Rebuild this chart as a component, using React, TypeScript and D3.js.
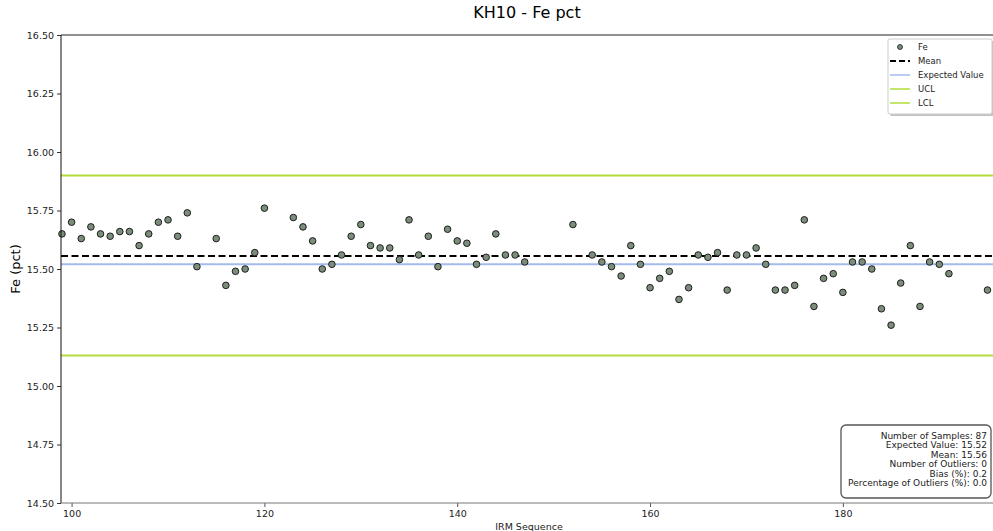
import React, { useEffect, useRef } from 'react';
import * as d3 from 'd3';

// IRM sequence numbers and Fe values
const seq = [
  99, 100, 101, 102, 103, 104, 105, 106, 107, 108, 109, 110, 111, 112, 113,
  115, 116, 117, 118, 119, 120,
  123, 124, 125, 126, 127, 128, 129, 130, 131, 132, 133, 134, 135, 136, 137, 138, 139, 140,
  141, 142, 143, 144, 145, 146, 147,
  152,
  154, 155, 156, 157, 158, 159, 160, 161, 162, 163, 164, 165, 166, 167, 168, 169, 170,
  171, 172, 173, 174, 175, 176, 177, 178, 179, 180, 181, 182, 183, 184, 185, 186, 187,
  188, 189, 190, 191,
  195,
];
const fe = [
  15.65, 15.70, 15.63, 15.68, 15.65, 15.64, 15.66, 15.66, 15.60, 15.65, 15.70, 15.71, 15.64, 15.74, 15.51,
  15.63, 15.43, 15.49, 15.50, 15.57, 15.76,
  15.72, 15.68, 15.62, 15.50, 15.52, 15.56, 15.64, 15.69, 15.60, 15.59, 15.59, 15.54, 15.71, 15.56, 15.64, 15.51, 15.67, 15.62,
  15.61, 15.52, 15.55, 15.65, 15.56, 15.56, 15.53,
  15.69,
  15.56, 15.53, 15.51, 15.47, 15.60, 15.52, 15.42, 15.46, 15.49, 15.37, 15.42, 15.56, 15.55, 15.57, 15.41, 15.56, 15.56,
  15.59, 15.52, 15.41, 15.41, 15.43, 15.71, 15.34, 15.46, 15.48, 15.40, 15.53, 15.53, 15.50, 15.33, 15.26, 15.44, 15.60,
  15.34, 15.53, 15.52, 15.48,
  15.41,
];

const meanValue = 15.556;
const expectedValue = 15.52;
const ucl = 15.9;
const lcl = 15.13;

const yTicks = [14.5, 14.75, 15.0, 15.25, 15.5, 15.75, 16.0, 16.25, 16.5];
const xTicks = [100, 120, 140, 160, 180];

const legendItems = ['Fe', 'Mean', 'Expected Value', 'UCL', 'LCL'];
const statsLines = [
  'Number of Samples: 87',
  'Expected Value: 15.52',
  'Mean: 15.56',
  'Number of Outliers: 0',
  'Bias (%): 0.2',
  'Percentage of Outliers (%): 0.0',
];

const width = 993;
const height = 531;
const font = 'DejaVu Sans, sans-serif';

const lineColors = {
  mean: '#000000',
  expected: '#a4bbee',
  limit: '#b2dd3c',
};

const ControlChart = () => {
  const svgRef = useRef<SVGSVGElement>(null);

  useEffect(() => {
    const svg = d3.select(svgRef.current);
    svg.selectAll('*').remove();

    const margin = { top: 35, right: -2, bottom: 28, left: 61 };

    const x = d3.scaleLinear()
      .domain([98.9, 195.78])
      .range([margin.left, width - margin.right]);

    const y = d3.scaleLinear()
      .domain([14.5, 16.5])
      .range([height - margin.bottom, margin.top]);

    const x0 = margin.left;
    const x1 = width - margin.right;

    // horizontal reference lines
    const hline = (v: number, color: string, w: number, dash?: string) => {
      const l = svg.append('line')
        .attr('x1', x0).attr('x2', x1)
        .attr('y1', y(v)).attr('y2', y(v))
        .attr('stroke', color)
        .attr('stroke-width', w);
      if (dash) l.attr('stroke-dasharray', dash);
    };
    hline(ucl, lineColors.limit, 2);
    hline(lcl, lineColors.limit, 2);
    hline(expectedValue, lineColors.expected, 2);
    hline(meanValue, lineColors.mean, 2, '7,3.5');

    // points
    svg.append('g')
      .selectAll('circle')
      .data(seq.map((s, i) => ({ s, v: fe[i] })))
      .join('circle')
      .attr('cx', d => x(d.s))
      .attr('cy', d => y(d.v))
      .attr('r', 3.3)
      .attr('fill', '#7b8d7b')
      .attr('stroke', '#1e1e1e')
      .attr('stroke-width', 1);

    // axes
    const yAxis = svg.append('g')
      .attr('transform', `translate(${x0},0)`)
      .call(d3.axisLeft(y).tickValues(yTicks).tickFormat(d3.format('.2f')).tickSize(4).tickPadding(3));
    yAxis.select('.domain').remove();
    yAxis.selectAll('text').attr('font-family', font).attr('font-size', 9.5).attr('fill', '#222');
    yAxis.selectAll('line').attr('stroke', '#333');

    const xAxis = svg.append('g')
      .attr('transform', `translate(0,${y(14.5)})`)
      .call(d3.axisBottom(x).tickValues(xTicks).tickFormat(d3.format('d')).tickSize(4).tickPadding(3));
    xAxis.select('.domain').remove();
    xAxis.selectAll('text').attr('font-family', font).attr('font-size', 9.5).attr('fill', '#222');
    xAxis.selectAll('line').attr('stroke', '#555');

    // spines
    svg.append('line').attr('x1', x0).attr('x2', x0).attr('y1', y(16.5)).attr('y2', y(14.5))
      .attr('stroke', '#111').attr('stroke-width', 1);
    svg.append('line').attr('x1', x0).attr('x2', x1).attr('y1', y(16.5)).attr('y2', y(16.5))
      .attr('stroke', '#222').attr('stroke-width', 1);
    svg.append('line').attr('x1', x0).attr('x2', x1).attr('y1', y(14.5)).attr('y2', y(14.5))
      .attr('stroke', '#777').attr('stroke-width', 1);

    // title and labels
    svg.append('text')
      .attr('x', 527).attr('y', 18)
      .attr('text-anchor', 'middle')
      .attr('font-family', font).attr('font-size', 16)
      .text('KH10 - Fe pct');

    svg.append('text')
      .attr('transform', `translate(20,${(y(16.5) + y(14.5)) / 2}) rotate(-90)`)
      .attr('text-anchor', 'middle')
      .attr('font-family', font).attr('font-size', 13)
      .text('Fe (pct)');

    svg.append('text')
      .attr('x', 529).attr('y', 530)
      .attr('text-anchor', 'middle')
      .attr('font-family', font).attr('font-size', 9.5)
      .attr('fill', '#222')
      .text('IRM Sequence');

    // legend
    const lg = svg.append('g').attr('transform', 'translate(888,39)');
    lg.append('rect').attr('x', 2).attr('y', 2).attr('width', 104).attr('height', 75)
      .attr('rx', 2).attr('fill', '#999').attr('opacity', 0.6);
    lg.append('rect').attr('width', 104).attr('height', 75)
      .attr('rx', 2).attr('fill', '#fff').attr('stroke', '#ccc').attr('stroke-width', 1);

    legendItems.forEach((name, i) => {
      const cy = 8 + i * 14;
      if (name === 'Fe') {
        lg.append('circle').attr('cx', 12).attr('cy', cy).attr('r', 2.5)
          .attr('fill', '#7b8d7b').attr('stroke', '#1e1e1e').attr('stroke-width', 0.8);
      } else {
        const color = name === 'Mean' ? lineColors.mean : name === 'Expected Value' ? lineColors.expected : lineColors.limit;
        const l = lg.append('line').attr('x1', 2).attr('x2', 22).attr('y1', cy).attr('y2', cy)
          .attr('stroke', color).attr('stroke-width', name === 'Mean' ? 2 : 1.5);
        if (name === 'Mean') l.attr('stroke-dasharray', '6,3');
      }
      lg.append('text').attr('x', 30).attr('y', cy + 3)
        .attr('font-family', font).attr('font-size', 8.5).attr('fill', '#222')
        .text(name);
    });

    // stats box
    const sb = svg.append('g').attr('transform', 'translate(841,425)');
    sb.append('rect').attr('width', 150).attr('height', 73).attr('rx', 5)
      .attr('fill', '#fff').attr('stroke', '#555').attr('stroke-width', 1.3);
    statsLines.forEach((t, i) => {
      sb.append('text').attr('x', 146).attr('y', 13.5 + i * 9.5)
        .attr('text-anchor', 'end')
        .attr('font-family', font).attr('font-size', 9).attr('fill', '#222')
        .text(t);
    });
  }, []);

  return (
    <svg ref={svgRef} width={width} height={height}
      style={{ position: 'absolute', left: 0, top: 0, background: '#fff' }} />
  );
};

export default function App() {
  return <ControlChart />;
}
